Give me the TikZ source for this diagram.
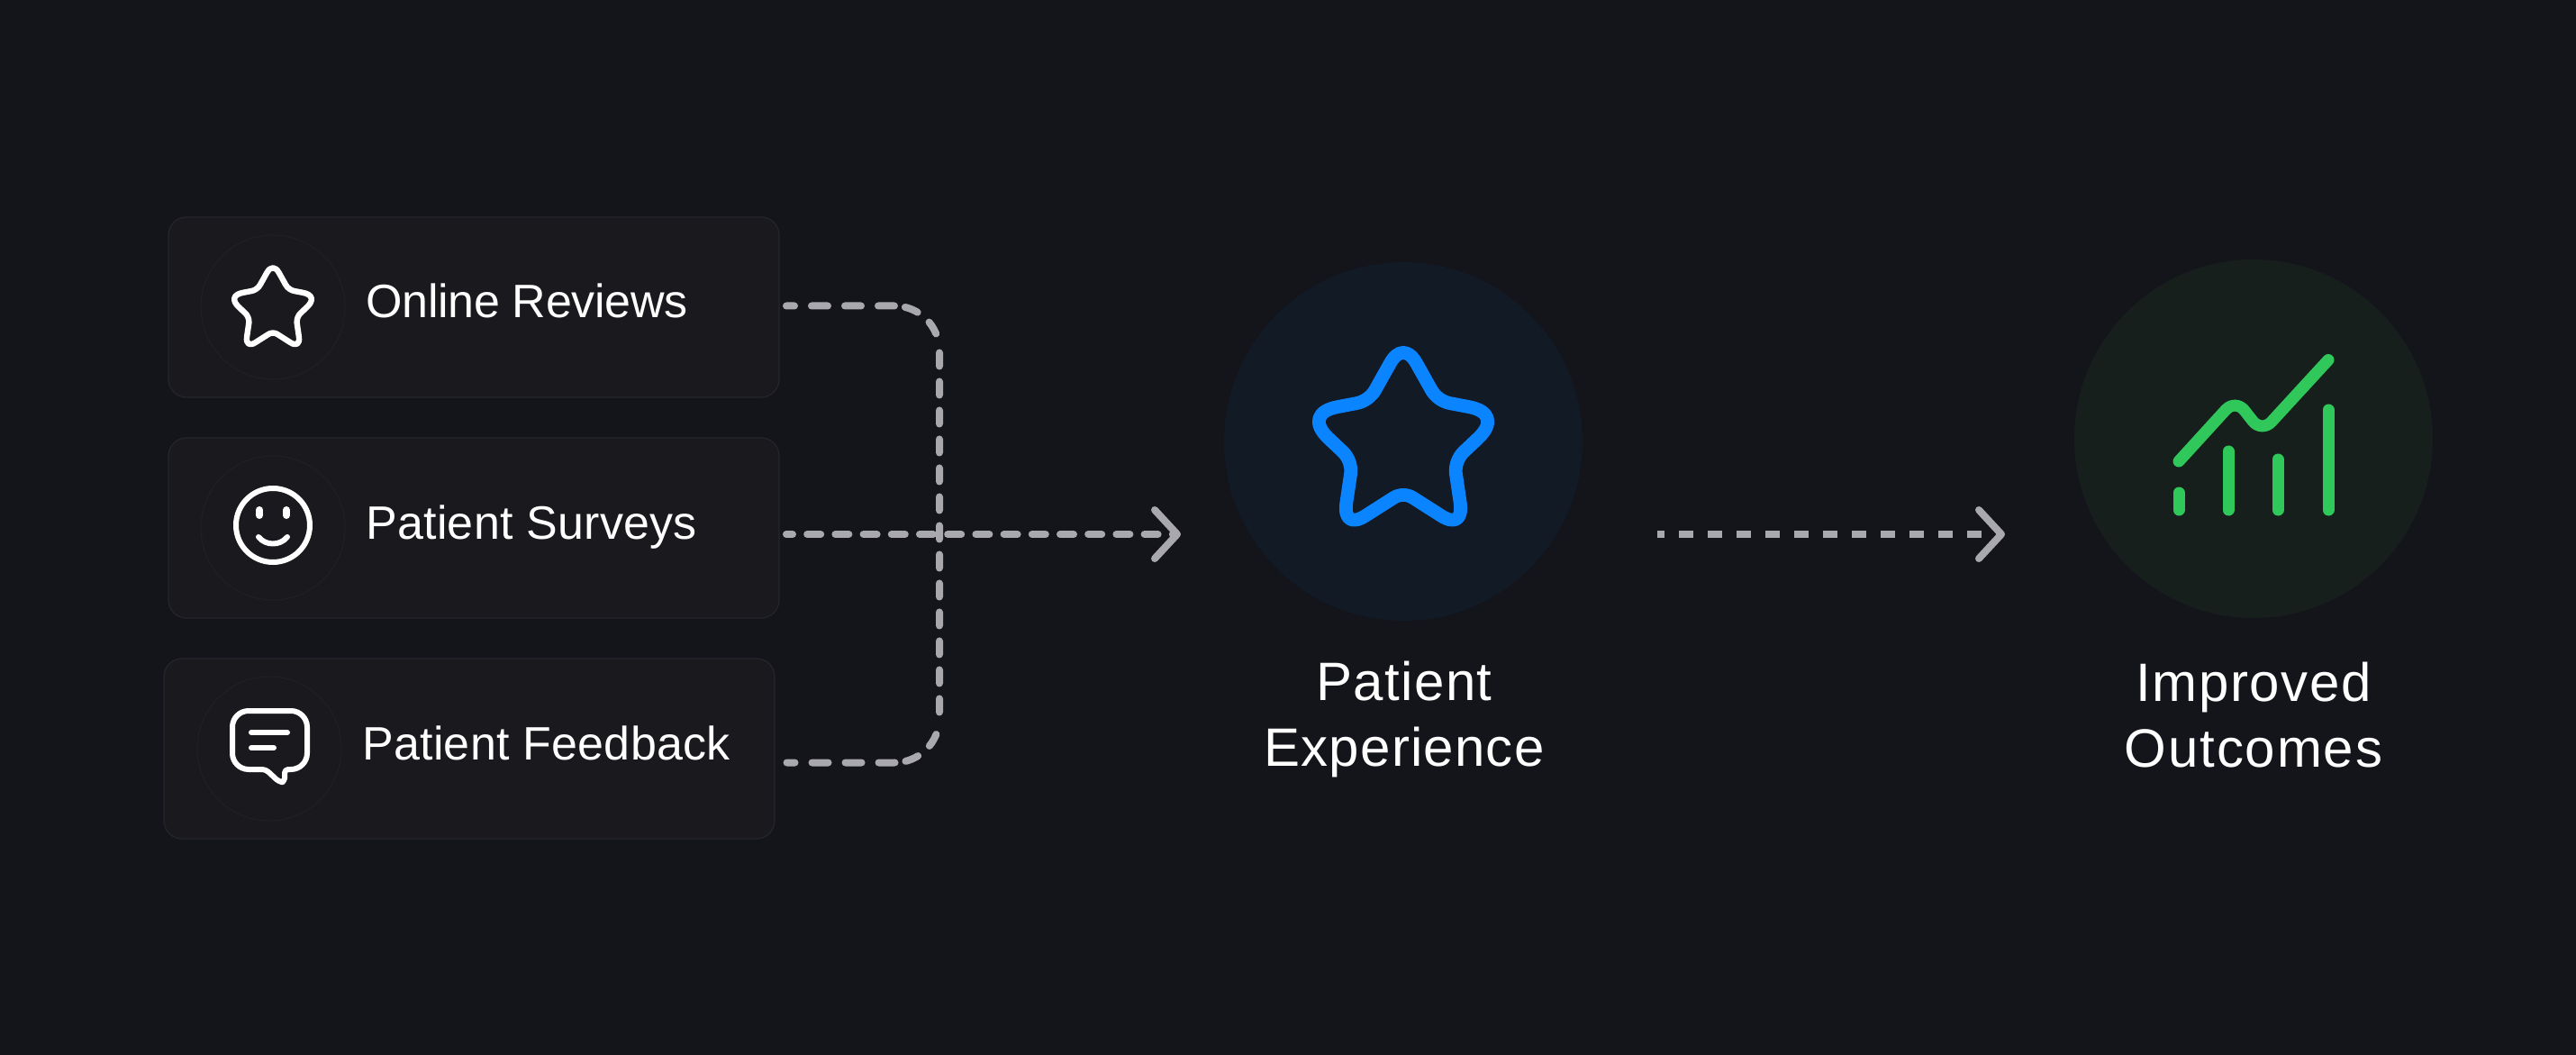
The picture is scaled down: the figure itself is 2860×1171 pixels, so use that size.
\documentclass[tikz,border=0pt]{standalone}
\usepackage{fontspec}
\setmainfont{Liberation Sans}
\usetikzlibrary{arrows.meta,calc}
\definecolor{bgc}{HTML}{14141B}
\definecolor{cardc}{HTML}{19191E}
\definecolor{cardb}{HTML}{25252B}
\definecolor{ringc}{HTML}{202026}
\definecolor{dashc}{HTML}{A8A8AD}
\definecolor{bluefill}{HTML}{121A26}
\definecolor{greenfill}{HTML}{171F1D}
\definecolor{bluec}{HTML}{0A84FF}
\definecolor{greenc}{HTML}{30C85A}
\def\crn(#1)(#2)(#3){.. controls ($(#1)!.6!(#2)$) and ($(#3)!.6!(#2)$) .. (#3)}
\newcommand{\roundstar}[5]{% colour, width, cx, cy, scale
  \draw[draw=#1,line width=#2,line join=round,shift={(#3,#4)},scale=#5]
    (14.6,-83.8) -- (31.2,-54.2) \crn(31.2,-54.2)(38,-42)(51.7,-39.4)
    -- (72.8,-35.4) \crn(72.8,-35.4)(112,-28)(83,-.5)
    -- (67.2,14.4) \crn(67.2,14.4)(57,24)(58.3,38)
    -- (63.3,72) \crn(63.3,72)(67,102)(41.3,85)
    -- (11.5,66) \crn(11.5,66)(0,58)(-11.5,66)
    -- (-41.3,85) \crn(-41.3,85)(-67,102)(-63.3,72)
    -- (-58.3,38) \crn(-58.3,38)(-57,24)(-67.2,14.4)
    -- (-83,-.5) \crn(-83,-.5)(-112,-28)(-72.8,-35.4)
    -- (-51.7,-39.4) \crn(-51.7,-39.4)(-38,-42)(-31.2,-54.2)
    -- (-14.6,-83.8) \crn(-14.6,-83.8)(0,-110)(14.6,-83.8) -- cycle;}
\newcommand{\lsp}[1]{\addfontfeature{LetterSpace=#1}}
\tikzset{
  x=0.5pt,y=-0.5pt,
  cardbox/.style={draw=cardb,fill=cardc,line width=0.6pt,rounded corners=10pt,minimum width=339pt,minimum height=100pt,inner sep=0pt,outer sep=0pt},
  ring/.style={circle,draw=ringc,line width=0.5pt,minimum size=80pt,inner sep=0pt,outer sep=0pt},
  bigdisc/.style={circle,minimum size=199pt,inner sep=0pt,outer sep=0pt},
  smalltext/.style={anchor=base west,inner sep=0pt,text=white,font=\fontsize{26pt}{30pt}\selectfont},
  bigtext/.style={anchor=center,inner sep=0pt,text=white,align=center,font=\fontsize{30pt}{36.5pt}\selectfont},
  iconline/.style={draw=white,line width=3pt,line cap=round,line join=round},
  conn/.style={draw=dashc,line width=4pt,line cap=round},
  head/.style={-{Straight Barb[length=12.5pt,width=27pt,line width=4pt,round]}},
  chart/.style={draw=greenc,line width=6.5pt,line cap=round,line join=round},
}
\begin{document}
\begin{tikzpicture}
\useasboundingbox (0,0) rectangle (2860,1171);
\fill[bgc] (0,0) rectangle (2860,1171);

% cards
\node[cardbox] (card1) at (526,341) {};
\node[cardbox] (card2) at (526,586) {};
\node[cardbox] (card3) at (521,831) {};
\node[ring] (ring1) at (303,341) {};
\node[ring] (ring2) at (303,586) {};
\node[ring] (ring3) at (299,831) {};

% card labels
\node[smalltext] (t1) at (406,353) {\lsp{-0.7}Online Reviews};
\node[smalltext] (t2) at (406,598) {\lsp{0.5}Patient Surveys};
\node[smalltext] (t3) at (402,843) {\lsp{0.5}Patient Feedback};

% icon: star
\roundstar{white}{3.2pt}{303}{341}{0.457}
\begin{scope}[iconline]
% icon: smile
\draw (303,583) circle[radius=41];
\draw[line width=4pt] (288,566) -- (288,572);
\draw[line width=4pt] (318,566) -- (318,572);
\draw (287,596) .. controls (295,606) and (311,606) .. (319,596);
% icon: speech bubble
\draw[rounded corners=9pt] (300,789) -- (341,789) -- (341,854) [rounded corners=2pt] -- (316,854) -- (316,868) -- (310,868) -- (295,854) [rounded corners=9pt] -- (258,854) -- (258,789) -- cycle;
\draw (279,813) -- (319,813);
\draw (279,830) -- (304,830);
\end{scope}

% big discs
\node[bigdisc,fill=bluefill] (exp) at (1558,490) {};
\node[bigdisc,fill=greenfill] (out) at (2502,487) {};

% big star
\roundstar{bluec}{7.4pt}{1558}{487}{1}

% chart
\draw[chart] (2419,547) -- (2419,566);
\draw[chart] (2474,501) -- (2474,566);
\draw[chart] (2529,510) -- (2529,566);
\draw[chart] (2585,455) -- (2585,566);
\draw[chart,rounded corners=8pt] (2419,512) -- (2482,443) -- (2511,480) -- (2585,399.5);

% big labels
\node[bigtext] (lexp) at (1559,798) {\lsp{2.4}Patient\\\lsp{2}Experience};
\node[bigtext] (lout) at (2502,794) {\lsp{2.7}Improved\\\lsp{3.1}Outcomes};

% connector coordinates
\coordinate (s1) at (873,339.5);
\coordinate (s2) at (873,593);
\coordinate (s3) at (873,846.5);
\coordinate (a1) at (1311,593);
\coordinate (b1) at (1840,593);
\coordinate (b2) at (2226,593);

% bracket from card 1 to card 3
\draw[conn,dash pattern=on 4.5pt off 9.5pt on 9pt off 9.5pt on 9pt off 9.5pt on 9pt off 6pt on 7.5pt off 8.5pt on 7.5pt off 10.75pt
  on 7.5pt off 8.5pt on 7.5pt off 8.5pt on 7.5pt off 8.5pt on 7.5pt off 8.5pt on 7.5pt off 8.5pt on 7.5pt off 8.5pt on 7.5pt off 8.5pt
  on 7.5pt off 8.5pt on 7.5pt off 8.5pt on 7.5pt off 8.5pt on 7.5pt off 8.5pt on 7.5pt off 8.5pt on 7.5pt off 12.5pt
  on 7.5pt off 8.5pt on 7.5pt off 6pt on 9pt off 9.5pt on 9pt off 9.5pt on 9pt off 9.5pt on 4.5pt off 100pt]
  (s1) -- (993,339.5) arc[start angle=-90,end angle=0,radius=50] -- (1043,796.5) arc[start angle=0,end angle=90,radius=50] -- (s3);

% arrow 1
\draw[conn,head,dash pattern=on 3.5pt off 8.1pt on 7.5pt off 8.1pt on 7.5pt off 8.1pt on 7.5pt off 8.1pt on 7.5pt off 8.1pt on 7.5pt off 8.1pt on 7.5pt off 8.1pt on 7.5pt off 8.1pt on 7.5pt off 8.1pt on 7.5pt off 8.1pt on 7.5pt off 8.1pt on 7.5pt off 8.1pt on 7.5pt off 8.1pt on 7.5pt off 8.1pt on 7.5pt off 100pt]
  (s2) -- (a1);

% arrow 2
\draw[conn,line cap=butt,head,dash pattern=on 4pt off 8pt on 8pt off 8pt on 8pt off 8pt on 8pt off 8pt on 8pt off 8pt on 8pt off 8pt on 8pt off 8pt on 8pt off 8pt on 8pt off 8pt on 8pt off 8pt on 8pt off 8pt on 8pt off 8pt on 8pt off 100pt]
  (b1) -- (b2);
\end{tikzpicture}
\end{document}
